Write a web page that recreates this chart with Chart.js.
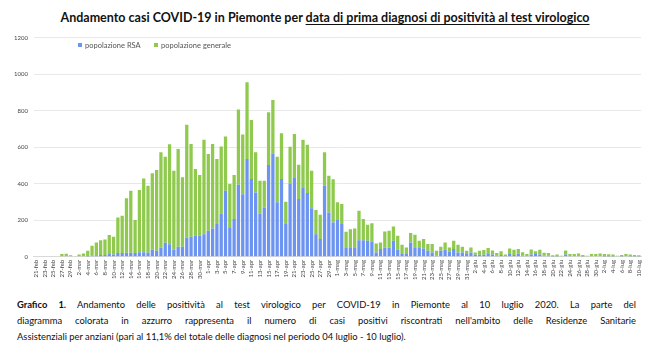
<!DOCTYPE html>
<html>
<head>
<meta charset="utf-8">
<script src="https://cdn.jsdelivr.net/npm/chart.js@4/dist/chart.umd.min.js"></script>
<style>
  html, body { margin: 0; padding: 0; background: #fff; }
  #wrap { position: relative; width: 650px; height: 355px; overflow: hidden; font-family: 'Lato', 'Open Sans', sans-serif; }
  #title { position: absolute; top: 10px; left: 0; width: 650px; text-align: center; font-weight: 700; font-size: 12.5px; color: #111; }
  #title u { text-decoration: underline; text-underline-offset: 2px; }
  #chartbox { position: absolute; left: 0; top: 28px; width: 650px; height: 262px; }
  #legend { position: absolute; top: 41px; left: 78px; font-size: 7.5px; color: #555; }
  #legend span.item { position: absolute; white-space: nowrap; }
  #legend i { display: inline-block; width: 4px; height: 4px; margin-right: 3px; vertical-align: middle; position: relative; top: -1px; }
  #caption { position: absolute; left: 17px; top: 297px; width: 619px; font-size: 9.4px; line-height: 16px; color: #111; }
  #caption div { text-align: justify; text-align-last: justify; white-space: nowrap; }
  #caption div.last { text-align-last: left; }
</style>
</head>
<body>
<div id="wrap">
  <div id="title">Andamento casi COVID-19 in Piemonte per <u>data di prima diagnosi di positività al test virologico</u></div>
  <div id="chartbox"><canvas id="c"></canvas></div>
  <div id="legend">
    <span class="item" style="left:0"><i style="background:#6d94f0"></i>popolazione RSA</span>
    <span class="item" style="left:76px"><i style="background:#8fc94d"></i>popolazione generale</span>
  </div>
  <div id="caption">
    <div style="white-space:normal"><b>Grafico 1.</b> Andamento delle positività al test virologico per COVID-19 in Piemonte al 10 luglio 2020. La parte del</div>
    <div style="white-space:normal">diagramma colorata in azzurro rappresenta il numero di casi positivi riscontrati nell'ambito delle Residenze Sanitarie</div>
    <div class="last">Assistenziali per anziani (pari al 11,1% del totale delle diagnosi nel periodo 04 luglio - 10 luglio).</div>
  </div>
</div>
<script>
const categories = [
 '21-feb','22-feb','23-feb','24-feb','25-feb','26-feb','27-feb','28-feb','29-feb',
 '1-mar','2-mar','3-mar','4-mar','5-mar','6-mar','7-mar','8-mar','9-mar','10-mar','11-mar','12-mar','13-mar','14-mar','15-mar','16-mar','17-mar','18-mar','19-mar','20-mar','21-mar','22-mar','23-mar','24-mar','25-mar','26-mar','27-mar','28-mar','29-mar','30-mar','31-mar',
 '1-apr','2-apr','3-apr','4-apr','5-apr','6-apr','7-apr','8-apr','9-apr','10-apr','11-apr','12-apr','13-apr','14-apr','15-apr','16-apr','17-apr','18-apr','19-apr','20-apr','21-apr','22-apr','23-apr','24-apr','25-apr','26-apr','27-apr','28-apr','29-apr','30-apr',
 '1-mag','2-mag','3-mag','4-mag','5-mag','6-mag','7-mag','8-mag','9-mag','10-mag','11-mag','12-mag','13-mag','14-mag','15-mag','16-mag','17-mag','18-mag','19-mag','20-mag','21-mag','22-mag','23-mag','24-mag','25-mag','26-mag','27-mag','28-mag','29-mag','30-mag','31-mag',
 '1-giu','2-giu','3-giu','4-giu','5-giu','6-giu','7-giu','8-giu','9-giu','10-giu','11-giu','12-giu','13-giu','14-giu','15-giu','16-giu','17-giu','18-giu','19-giu','20-giu','21-giu','22-giu','23-giu','24-giu','25-giu','26-giu','27-giu','28-giu','29-giu','30-giu',
 '1-lug','2-lug','3-lug','4-lug','5-lug','6-lug','7-lug','8-lug','9-lug','10-lug'
];

// popolazione RSA (blue)
const rsa = [
 0,0,0,0,0,0,0,0,0,0,
 0,0,2,5,8,10,10,15,12,20,
 20,22,22,20,25,25,22,38,33,49,
 77,68,40,55,55,104,110,115,115,124,
 142,155,179,237,362,161,207,395,343,535,
 426,352,237,270,502,563,298,426,179,398,
 431,316,380,349,265,124,97,389,243,188,
 201,179,48,48,48,91,91,88,84,24,
 42,51,51,88,38,15,15,78,48,48,
 45,33,24,5,33,38,27,42,24,24,
 15,24,11,11,11,15,12,6,10,3,
 15,10,18,6,3,12,15,12,5,5,
 2,2,0,12,4,3,3,2,0,3,
 3,3,2,2,2,0,2,3,2,2,
 1
];

// popolazione generale (green)
const generale = [
 0,0,0,0,0,0,15,16,8,3,
 12,18,31,55,70,81,85,104,98,195,
 205,299,340,181,340,404,367,419,442,523,
 471,548,431,535,380,619,507,365,333,517,
 421,462,356,367,296,237,241,411,326,420,
 323,220,179,146,289,296,250,250,122,205,
 241,188,261,265,206,132,133,183,201,237,
 97,110,89,103,107,161,116,87,99,49,
 36,88,91,78,77,51,36,52,73,40,
 52,37,46,28,22,40,24,46,42,31,
 18,27,13,22,26,33,23,14,20,9,
 30,28,24,19,12,28,15,26,17,15,
 6,10,5,23,11,12,15,8,5,12,
 12,15,13,12,10,5,8,12,10,8,
 7
];

const yTicks = [0, 200, 400, 600, 800, 1000, 1200];

new Chart(document.getElementById('c'), {
  type: 'bar',
  data: {
    labels: categories,
    datasets: [
      { label: 'popolazione RSA', data: rsa, backgroundColor: '#6d94f0', barPercentage: 0.76, categoryPercentage: 1.0 },
      { label: 'popolazione generale', data: generale, backgroundColor: '#8fc94d', barPercentage: 0.76, categoryPercentage: 1.0 }
    ]
  },
  options: {
    responsive: true,
    maintainAspectRatio: false,
    animation: false,
    layout: { padding: { left: 8, right: 9, top: 6, bottom: 7 } },
    plugins: { legend: { display: false }, tooltip: { enabled: false }, title: { display: false } },
    scales: {
      x: {
        stacked: true,
        grid: { display: false, drawTicks: false },
        border: { display: true, color: '#d9d9d9' },
        ticks: {
          autoSkip: false, maxRotation: 90, minRotation: 90, padding: 3,
          color: '#444', font: { family: 'Lato', size: 6 },
          callback: function(v, i) { return i % 2 === 0 ? categories[i] : ''; }
        }
      },
      y: {
        stacked: true,
        min: 0, max: 1200,
        afterBuildTicks: function(axis) { axis.ticks = yTicks.map(v => ({ value: v })); },
        grid: { color: '#e8e8e8', drawTicks: false },
        border: { display: false },
        ticks: { padding: 6, color: '#444', font: { family: 'Lato', size: 6 }, callback: function(v) { return String(v); } }
      }
    }
  }
});
</script>
</body>
</html>
